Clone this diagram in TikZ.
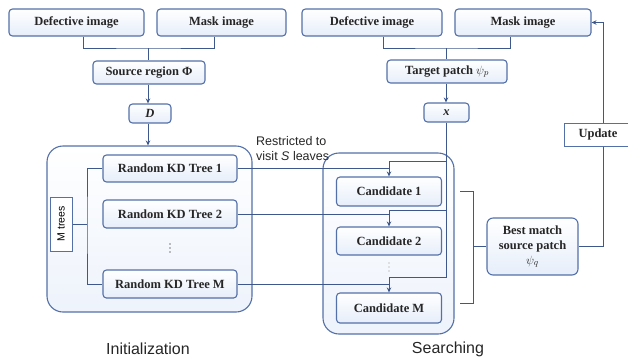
\documentclass[tikz,border=0pt]{standalone}
\usepackage{fontspec}
\setmainfont{Liberation Serif}
\newfontfamily\arialfont{Liberation Sans}
\usetikzlibrary{arrows.meta,calc}
\definecolor{bordc}{RGB}{84,112,168}
\definecolor{linec}{RGB}{62,88,140}
\definecolor{fillc}{RGB}{230,238,250}
\begin{document}
\begin{tikzpicture}[x=1pt,y=-1pt,
  box/.style={draw=bordc, line width=1.1pt, rounded corners=3.5pt, top color=white, bottom color=fillc,
    font=\fontsize{12.5}{15}\selectfont\bfseries, text=black!85, inner sep=0pt, align=center},
  bigbox/.style={draw=bordc, line width=1.1pt, rounded corners=16pt, top color=white, bottom color=fillc!70},
  sqbox/.style={draw=bordc, line width=1pt, fill=white, inner sep=0pt},
  conn/.style={draw=linec, line width=0.9pt},
  arr/.style={conn, -{Stealth[length=5pt,width=4.5pt]}},
  lab/.style={font=\arialfont\fontsize{12.5}{15}\selectfont, text=black!85, inner sep=0pt, align=left},
  captext/.style={font=\arialfont\fontsize{16}{18}\selectfont, text=black!85, inner sep=0pt}]
\useasboundingbox (0,0) rectangle (628,360);
\clip (0,0) rectangle (628,360);

% big containers
\node[bigbox, minimum width=205pt, minimum height=166pt] (bigL) at (149.5,229) {};
\node[bigbox, minimum width=131pt, minimum height=181pt] (bigR) at (388.5,243.5) {};

% top row
\node[box, minimum width=135pt, minimum height=27pt] (defL) at (76.5,22.5) {Defective image};
\node[box, minimum width=129pt, minimum height=27pt] (maskL) at (221.5,22.5) {Mask image};
\node[box, minimum width=140pt, minimum height=27pt] (defR) at (372,22.5) {Defective image};
\node[box, minimum width=136pt, minimum height=27pt] (maskR) at (523,22.5) {Mask image};

\node[box, minimum width=112pt, minimum height=23pt] (srcL) at (149,72.5) {Source region Φ};
\node[box, minimum width=42pt, minimum height=19pt] (D) at (150,113.5) {\textit{D}};
\node[box, minimum width=120pt, minimum height=23pt] (tgt) at (447,71.5) {Target patch \textmd{$\psi_p$}};
\node[box, minimum width=45pt, minimum height=19pt] (xbox) at (446.5,112.5) {\textit{x}};

% trees
\node[box, minimum width=134pt, minimum height=27pt] (tree1) at (170,168.5) {Random KD Tree 1};
\node[box, minimum width=134pt, minimum height=28pt] (tree2) at (170,214) {Random KD Tree 2};
\node[box, minimum width=134pt, minimum height=28pt] (treeM) at (170,284) {Random KD Tree M};
\foreach \yy in {244,248,252} \fill[gray] (170,\yy) circle (0.8pt);
\node[sqbox, rotate=90, minimum width=54pt, minimum height=22pt, font=\arialfont\fontsize{10.5}{12}\selectfont] (mtr) at (61,224) {M trees};

% candidates
\node[box, minimum width=105pt, minimum height=29pt] (cand1) at (389,191.5) {Candidate 1};
\node[box, minimum width=105pt, minimum height=28pt] (cand2) at (389,241) {Candidate 2};
\node[box, minimum width=105pt, minimum height=30pt] (candM) at (389,308) {Candidate M};
\foreach \yy in {263,267,271} \fill[gray!45] (389,\yy) circle (0.8pt);

% best match and update
\node[box, rounded corners=6pt, minimum width=91pt, minimum height=57pt] (best) at (532.5,246.5)
  {Best match\\source patch\\\textmd{$\psi_q$}};
\node[sqbox, minimum width=68pt, minimum height=23pt, font=\fontsize{12.5}{15}\selectfont\bfseries, text=black!85] (update) at (598,134.5) {Update};

% labels
\node[lab, anchor=north west] (restr) at (256,136.5) {Restricted to\\visit \textit{S} leaves};
\node[captext] (init) at (148,349) {Initialization};
\node[captext] (search) at (448,349) {Searching};

% top brackets
\coordinate (jL) at (148,48);
\coordinate (jR) at (446,48);
\draw[conn] ([xshift=6.5pt]defL.south) |- (jL) -| ([xshift=-7.5pt]maskL.south);
\draw[conn] (jL) -- (jL |- srcL.north);
\draw[conn] ([xshift=11pt]defR.south) |- (jR) -| ([xshift=-13pt]maskR.south);
\draw[conn] (jR) -- (jR |- tgt.north);

% vertical arrows
\draw[arr] (srcL.south -| jL) -- (jL |- D.north);
\draw[arr] (D.south -| jL) -- (jL |- bigL.north);
\draw[arr] (tgt.south -| jR) -- (jR |- xbox.north);

% M trees bracket
\coordinate (mb) at (87,224);
\draw[conn] (mtr.south) -- (mb);
\draw[conn] (tree1.west) -| (mb) |- (treeM.west);

% x feed lines
\coordinate (k1) at (389,161);
\coordinate (k2) at (389,210);
\coordinate (k3) at (389,277);
\draw[conn] (xbox.south -| jR) -- (jR |- k3) -- (k3);
\draw[conn] (jR |- k1) -- (k1);
\draw[conn] (jR |- k2) -- (k2);
\draw[arr] (k1) -- (k1 |- cand1.north);
\draw[arr] (k2) -- (k2 |- cand2.north);
\draw[arr] (k3) -- (k3 |- candM.north);

% tree to candidate lines
\draw[conn] (tree1.east) -- (tree1.east -| k1);
\draw[conn] (tree2.east) -- (tree2.east -| k2);
\draw[conn] (treeM.east) -- (treeM.east -| k3);

% right bracket
\coordinate (b1) at (460,191);
\coordinate (b2) at (460,303);
\coordinate (bm) at (473,246.5);
\draw[conn] (b1) -- (b1 -| bm) -- (b2 -| bm) -- (b2);
\draw[conn] (bm) -- (best.west);

% feedback
\draw[conn] (best.east) -| ([xshift=5pt]update.south);
\draw[arr] ([xshift=5pt]update.north) |- (maskR.east);
\end{tikzpicture}
\end{document}
